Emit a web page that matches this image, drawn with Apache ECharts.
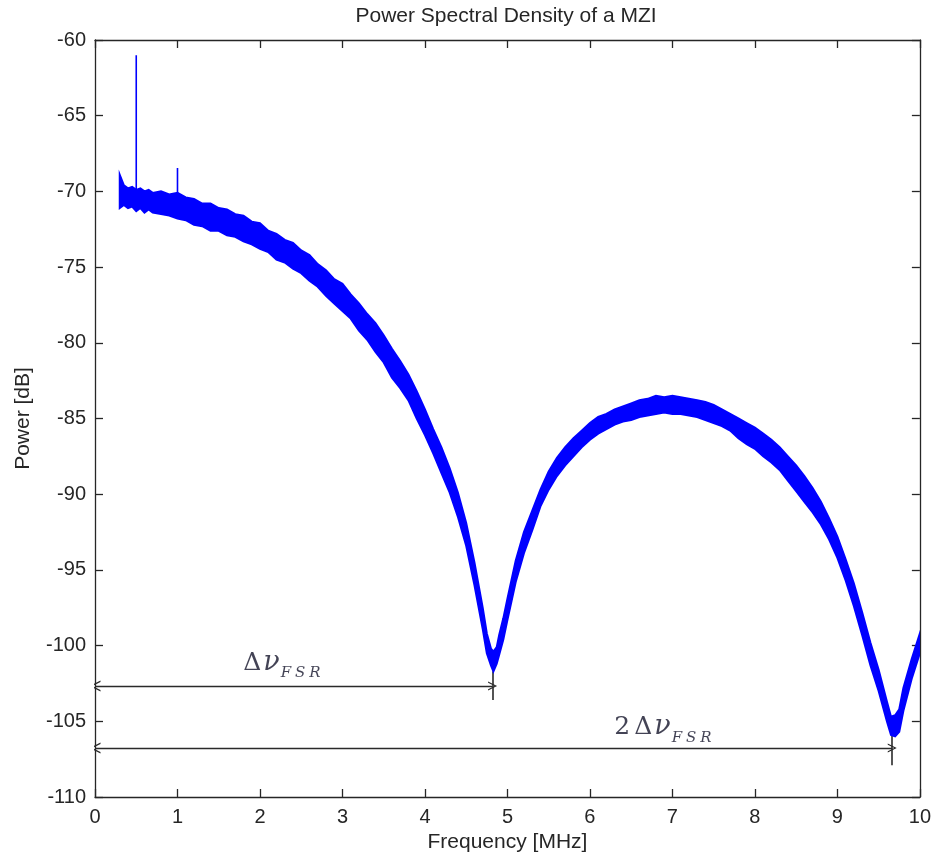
<!DOCTYPE html>
<html>
<head>
<meta charset="utf-8">
<script src="https://cdn.jsdelivr.net/npm/echarts@6/dist/echarts.min.js"></script>
<style>html,body{margin:0;padding:0;background:#fff;}#chart{width:934px;height:859px;}</style>
</head>
<body>
<div id="chart"></div>
<script>
// Frequency samples (MHz) and upper / lower envelope of the noisy PSD band (dB)
var freq = [0.30,0.35,0.40,0.45,0.50,0.55,0.60,0.65,0.70,0.80,0.90,1.00,1.10,1.20,1.30,1.40,1.50,1.60,1.70,1.80,1.90,2.00,2.10,2.20,2.30,2.40,2.50,2.60,2.70,2.80,2.90,3.00,3.10,3.20,3.30,3.40,3.50,3.60,3.70,3.80,3.90,4.00,4.10,4.20,4.30,4.40,4.50,4.60,4.70,4.75,4.80,4.83,4.87,4.90,4.95,5.00,5.10,5.20,5.30,5.40,5.50,5.60,5.70,5.80,5.90,6.00,6.10,6.20,6.30,6.40,6.50,6.60,6.70,6.80,6.90,7.00,7.10,7.20,7.30,7.40,7.50,7.60,7.70,7.80,7.90,8.00,8.10,8.20,8.30,8.40,8.50,8.60,8.70,8.80,8.90,9.00,9.10,9.20,9.30,9.40,9.50,9.60,9.65,9.70,9.75,9.80,9.90,10.00];
var upper = [-68.9,-69.6,-69.8,-69.7,-69.9,-69.8,-70.0,-69.9,-70.1,-70.0,-70.2,-70.1,-70.4,-70.5,-70.8,-70.8,-71.1,-71.2,-71.5,-71.6,-72.0,-72.1,-72.6,-72.8,-73.2,-73.4,-73.9,-74.2,-74.8,-75.2,-75.8,-76.1,-76.8,-77.4,-78.1,-78.7,-79.5,-80.4,-81.2,-82.1,-83.2,-84.4,-85.7,-86.9,-88.3,-89.9,-91.9,-94.5,-97.5,-99.2,-100.2,-100.4,-100.1,-99.3,-98.2,-96.9,-94.4,-92.5,-91.1,-89.7,-88.5,-87.6,-86.9,-86.3,-85.8,-85.3,-84.9,-84.7,-84.4,-84.2,-84.0,-83.8,-83.7,-83.5,-83.6,-83.5,-83.6,-83.7,-83.8,-83.9,-84.1,-84.4,-84.7,-85.0,-85.3,-85.6,-86.0,-86.4,-86.9,-87.5,-88.1,-88.8,-89.6,-90.5,-91.6,-92.8,-94.3,-95.9,-97.8,-99.8,-101.6,-103.7,-104.7,-104.6,-104.2,-102.8,-100.9,-99.2];
var lower = [-71.1,-70.9,-71.1,-71.0,-71.3,-71.1,-71.4,-71.2,-71.4,-71.5,-71.6,-71.8,-71.9,-72.2,-72.3,-72.6,-72.6,-72.9,-73.0,-73.3,-73.5,-73.8,-74.0,-74.5,-74.7,-75.1,-75.4,-75.9,-76.3,-76.9,-77.4,-77.9,-78.4,-79.2,-79.8,-80.6,-81.3,-82.3,-83.0,-83.8,-85.0,-86.1,-87.3,-88.6,-89.9,-91.5,-93.4,-96.0,-98.9,-100.5,-101.3,-101.7,-101.2,-100.6,-99.6,-98.3,-95.8,-93.9,-92.4,-90.8,-89.7,-88.8,-88.1,-87.5,-86.9,-86.4,-86.0,-85.7,-85.4,-85.2,-85.1,-84.9,-84.8,-84.7,-84.6,-84.7,-84.7,-84.8,-84.9,-85.1,-85.3,-85.5,-85.8,-86.3,-86.7,-87.0,-87.5,-87.9,-88.4,-89.1,-89.8,-90.5,-91.2,-92.0,-93.0,-94.2,-95.7,-97.4,-99.3,-101.3,-103.0,-105.0,-105.9,-106.0,-105.7,-104.3,-102.2,-100.5];

// Narrow spurious peaks: [frequency, base dB, peak dB]
var spikes = [[0.5, -70.0, -61.0], [1.0, -70.3, -68.45]];

// FSR annotations: arrow end frequency, arrow level, tick top, tick bottom
var arrowEnd = [4.82, 9.665];
var arrowLevel = [-102.67, -106.76];
var tickTop = [-101.7, -105.9];
var tickBottom = [-103.6, -107.9];
var annPos = [[2.29, -101.15], [6.91, -105.4]];
var annText = ['{a|\u0394}{b|\u03bd}{c|F}{c|S}{c|R}', '{a|2}{s| }{a|\u0394}{b|\u03bd}{c|F}{c|S}{c|R}'];

var xTicks = {min: 0, max: 10, interval: 1};
var yTicks = {min: -110, max: -60, interval: 5};

var axisColor = '#262626';
var annColor = '#14142a';
var chevron = 'path://M0,10 L5,0 L10,10 L8.6,10 L5,2.8 L1.4,10 Z';

var chart = echarts.init(document.getElementById('chart'), null, {renderer: 'canvas'});

function baseX(pos, showLabel) {
  return {
    type: 'value', position: pos, min: xTicks.min, max: xTicks.max, interval: xTicks.interval,
    axisLine: {show: true, onZero: false, lineStyle: {color: axisColor, width: 1.3}},
    axisTick: {show: true, inside: true, length: 8, lineStyle: {color: axisColor, width: 1.3}},
    axisLabel: {show: showLabel, color: axisColor, fontSize: 20, fontFamily: 'Liberation Sans', margin: 10, showMinLabel: true, showMaxLabel: true},
    splitLine: {show: false}
  };
}
function baseY(pos, showLabel) {
  return {
    type: 'value', position: pos, min: yTicks.min, max: yTicks.max, interval: yTicks.interval,
    axisLine: {show: true, onZero: false, lineStyle: {color: axisColor, width: 1.3}},
    axisTick: {show: true, inside: true, length: 8, lineStyle: {color: axisColor, width: 1.3}},
    axisLabel: {show: showLabel, color: axisColor, fontSize: 20, fontFamily: 'Liberation Sans', margin: 9, showMinLabel: true, showMaxLabel: true},
    splitLine: {show: false}
  };
}

var xb = baseX('bottom', true);
xb.name = 'Frequency [MHz]';
xb.nameLocation = 'middle';
xb.nameGap = 32;
xb.nameTextStyle = {color: axisColor, fontSize: 21, fontFamily: 'Liberation Sans'};
var yl = baseY('left', true);
yl.name = 'Power [dB]';
yl.nameLocation = 'middle';
yl.nameGap = 61;
yl.nameTextStyle = {color: axisColor, fontSize: 21, fontFamily: 'Liberation Sans'};

var serif = 'DejaVu Serif';
var option = {
  animation: false,
  backgroundColor: '#ffffff',
  title: {
    text: 'Power Spectral Density of a MZI',
    left: 506, top: 6, padding: 0, textAlign: 'center',
    textStyle: {color: axisColor, fontSize: 21, fontWeight: 'normal', fontFamily: 'Liberation Sans'}
  },
  grid: {left: 95, right: 14, top: 40, bottom: 62, containLabel: false},
  xAxis: [xb, baseX('top', false)],
  yAxis: [yl, baseY('right', false)],
  series: [
    {
      type: 'lines', coordinateSystem: 'cartesian2d', z: 3,
      symbol: [chevron, chevron], symbolSize: [11, 9],
      lineStyle: {color: '#2a2a2a', width: 1.3, opacity: 1},
      itemStyle: {color: '#2a2a2a'},
      data: arrowEnd.map(function (e, i) { return {coords: [[xTicks.min, arrowLevel[i]], [e, arrowLevel[i]]]}; })
    },
    {
      type: 'lines', coordinateSystem: 'cartesian2d', z: 3, symbol: ['none', 'none'],
      lineStyle: {color: '#2a2a2a', width: 1.6, opacity: 1},
      data: arrowEnd.map(function (e, i) { return {coords: [[e, tickTop[i]], [e, tickBottom[i]]]}; })
    },
    {
      type: 'custom', z: 4, clip: true,
      data: [[freq[0], upper[0]]],
      renderItem: function (params, api) {
        var pts = [];
        for (var i = 0; i < freq.length; i++) pts.push(api.coord([freq[i], upper[i]]));
        for (var j = freq.length - 1; j >= 0; j--) pts.push(api.coord([freq[j], lower[j]]));
        var cs = params.coordSys;
        return {
          type: 'polygon', shape: {points: pts},
          style: {fill: '#0000ff', stroke: '#0000ff', lineWidth: 2, lineJoin: 'miter'},
          clipPath: {type: 'rect', shape: {x: cs.x, y: cs.y, width: cs.width, height: cs.height}}
        };
      }
    }
  ].concat(spikes.map(function (s) {
    return {
      type: 'line', z: 4, symbol: 'none', silent: true,
      lineStyle: {color: '#0000ff', width: 1.6},
      data: [[s[0], s[1]], [s[0], s[2]]]
    };
  })).concat([{
    type: 'scatter', z: 5, symbolSize: 0, silent: true,
    data: annPos.map(function (p, i) { return {value: p, name: annText[i]}; }),
    label: {
      show: true, position: 'inside',
      formatter: function (p) { return p.name; },
      color: annColor,
      rich: {
        a: {fontFamily: serif, fontSize: 25, lineHeight: 30, color: annColor, padding: [0, 2, 0, 0]},
        s: {fontFamily: serif, fontSize: 6, lineHeight: 30},
        b: {fontFamily: serif, fontSize: 27, fontStyle: 'italic', lineHeight: 30, color: annColor, padding: [0, 1, 0, 0]},
        c: {fontFamily: serif, fontSize: 15, fontStyle: 'italic', lineHeight: 36, verticalAlign: 'bottom', color: annColor, padding: [0, 4, 0, 0]}
      }
    }
  }])
};
chart.setOption(option);
</script>
</body>
</html>
